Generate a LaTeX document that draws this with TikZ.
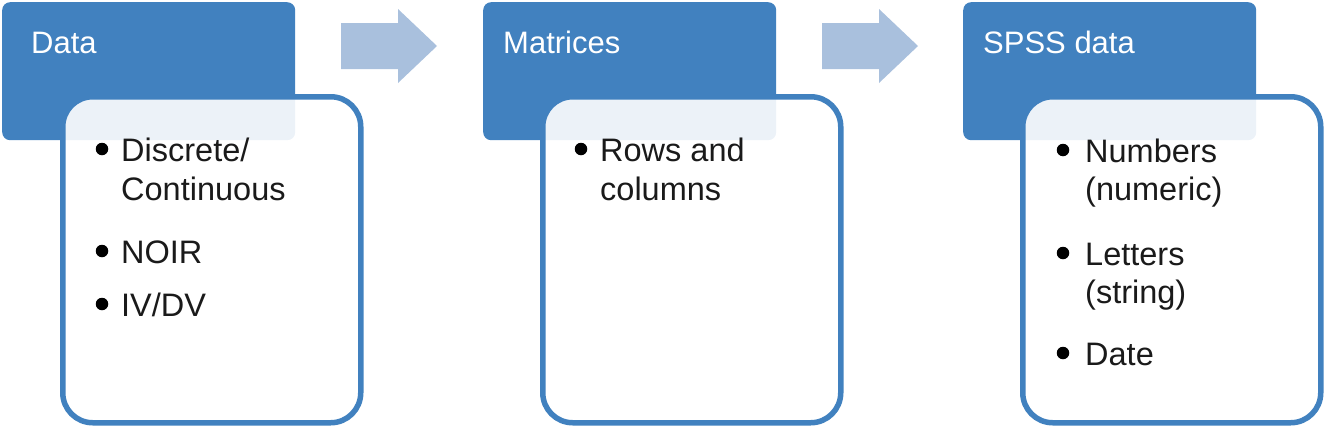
\documentclass[tikz,border=0pt]{standalone}
\usepackage{fontspec}
\setmainfont{Liberation Sans}
\definecolor{hdrblue}{RGB}{65,129,191}
\definecolor{arrblue}{RGB}{169,192,221}
\definecolor{txt}{RGB}{26,26,26}
\begin{document}
\begin{tikzpicture}[x=1pt,y=-1pt,
  hdr/.style={fill=hdrblue, rounded corners=8pt, inner sep=0, anchor=north west, minimum width=293pt, minimum height=138pt},
  bodybox/.style={draw=hdrblue, line width=5.5pt, fill=white, fill opacity=0.9, rounded corners=30pt, inner sep=0, anchor=north west, minimum width=298pt, minimum height=326pt},
  ttl/.style={anchor=base west, inner sep=0, text=white, font=\fontsize{31}{37}\selectfont},
  itm/.style={anchor=base west, inner sep=0, text=txt, font=\fontsize{32.5}{38}\selectfont},
  bul/.style={circle, fill=black, inner sep=0, minimum size=12.5pt},
  barrow/.style={fill=arrblue}]
\useasboundingbox (0,0) rectangle (1325,426);
% group 1
\node[hdr] (h1) at (2,2) {};
\node[bodybox] (b1) at (60,94) {};
\node[ttl] (t1) at (31,53) {Data};
\node[bul] (d11) at (102,149) {};
\node[itm] (i11) at (121,161) {Discrete/};
\node[itm] (i12) at (121,200) {Continuous};
\node[bul] (d12) at (102,251) {};
\node[itm] (i13) at (121,263) {NOIR};
\node[bul] (d13) at (102,304) {};
\node[itm] (i14) at (121,316) {IV/DV};
% arrow 1
\fill[barrow] (341,23) -- (398,23) -- (398,9) -- (437,46) -- (398,83) -- (398,69) -- (341,69) -- cycle;
% group 2
\node[hdr] (h2) at (483,2) {};
\node[bodybox] (b2) at (540,94) {};
\node[ttl] (t2) at (503,53) {Matrices};
\node[bul] (d21) at (581,149) {};
\node[itm] (i21) at (600,161) {Rows and};
\node[itm] (i22) at (600,200) {columns};
% arrow 2
\fill[barrow] (822,23) -- (879,23) -- (879,9) -- (918,46) -- (879,83) -- (879,69) -- (822,69) -- cycle;
% group 3
\node[hdr] (h3) at (963,2) {};
\node[bodybox] (b3) at (1020,94) {};
\node[ttl] (t3) at (983,53) {SPSS data};
\node[bul] (d31) at (1063,150) {};
\node[itm] (i31) at (1085,162) {Numbers};
\node[itm] (i32) at (1085,200) {(numeric)};
\node[bul] (d32) at (1063,253) {};
\node[itm] (i33) at (1085,265) {Letters};
\node[itm] (i34) at (1085,303) {(string)};
\node[bul] (d33) at (1063,353) {};
\node[itm] (i35) at (1085,365) {Date};
\end{tikzpicture}
\end{document}
